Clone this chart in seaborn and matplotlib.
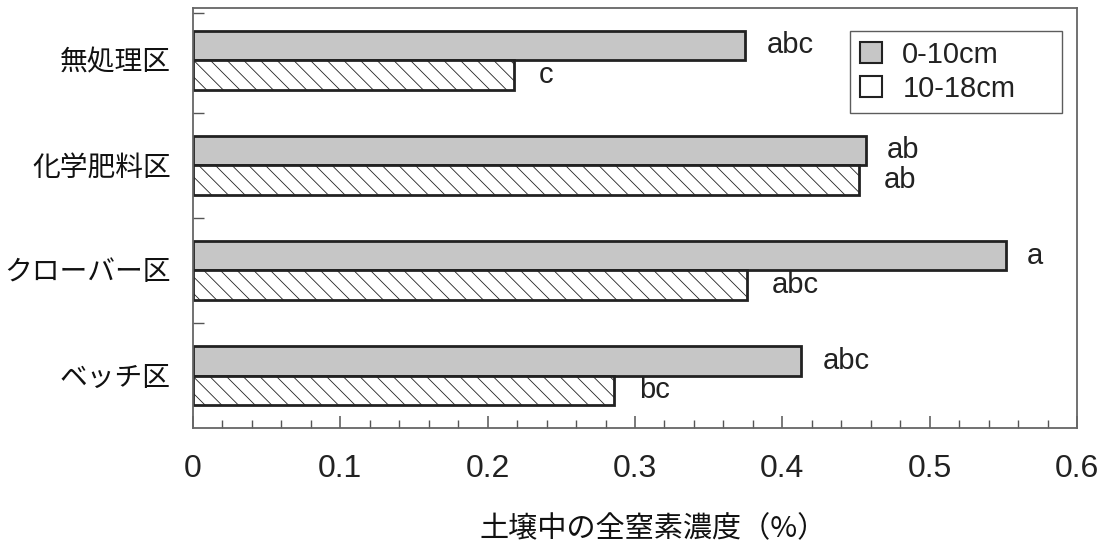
import matplotlib
matplotlib.use("Agg")
import matplotlib.pyplot as plt
from matplotlib.patches import Patch
from matplotlib.ticker import MultipleLocator
import seaborn as sns
import pandas as pd

# ---- data ----
categories = ['無処理区', '化学肥料区', 'クローバー区', 'ベッチ区']
series_names = ['0-10cm', '10-18cm']
depth_0_10 = [0.375, 0.457, 0.552, 0.413]
depth_10_18 = [0.218, 0.452, 0.376, 0.286]
letters_0_10 = ['abc', 'ab', 'a', 'abc']
letters_10_18 = ['c', 'ab', 'abc', 'bc']
x_ticks = [0, 0.1, 0.2, 0.3, 0.4, 0.5, 0.6]
x_tick_labels = ['0', '0.1', '0.2', '0.3', '0.4', '0.5', '0.6']
x_label = '土壌中の全窒素濃度（%）'

df = pd.DataFrame({
    'cat': categories * 2,
    'depth': [series_names[0]] * 4 + [series_names[1]] * 4,
    'val': depth_0_10 + depth_10_18,
})

sns.set_style('white')
plt.rcParams['font.family'] = ['Liberation Sans', 'Noto Sans CJK JP', 'DejaVu Sans']
plt.rcParams['hatch.color'] = '#7a7a7a'
plt.rcParams['hatch.linewidth'] = 0.6

fig = plt.figure(figsize=(11.03, 5.46), dpi=100)
ax = fig.add_axes([0.175, 0.216, 0.8014, 0.770])

sns.barplot(data=df, y='cat', x='val', hue='depth', order=categories,
            hue_order=series_names, orient='h', width=0.565,
            palette=['#c6c6c6', '#ffffff'], edgecolor='#222222',
            linewidth=2.0, ax=ax, legend=False, saturation=1)

for bar in ax.containers[1]:
    bar.set_hatch('\\\\')

ax.bar_label(ax.containers[0], labels=letters_0_10, padding=15,
             fontsize=21, color='#222222')
ax.bar_label(ax.containers[1], labels=letters_10_18, padding=18,
             fontsize=21, color='#222222')

ax.set_xlim(0, 0.6)
ax.set_ylim(3.5, -0.5)
ax.set_xticks(x_ticks)
ax.set_xticklabels(x_tick_labels, fontsize=23, color='#222222')
ax.xaxis.set_minor_locator(MultipleLocator(0.02))
ax.tick_params(axis='x', which='major', direction='in', length=9, width=1.1,
               color='#555555', pad=19, bottom=True)
ax.tick_params(axis='x', which='minor', direction='in', length=6, width=1.0,
               color='#555555', bottom=True)

ax.set_yticks(range(len(categories)))
ax.set_yticklabels(categories, fontsize=20, color='#111111')
ax.set_yticks([-0.45, 0.5, 1.5, 2.5], minor=True)
ax.tick_params(axis='y', which='major', length=0, pad=16)
ax.tick_params(axis='y', which='minor', direction='in', length=8, width=1.0,
               color='#555555', left=True)

ax.set_xlabel(x_label, fontsize=21, color='#111111',
              family=['Noto Sans CJK JP', 'DejaVu Sans'])
ax.xaxis.set_label_coords(0.52, -0.205)
ax.set_ylabel('')

for s in ax.spines.values():
    s.set_visible(True)
    s.set_color('#666666')
    s.set_linewidth(1.3)

handles = [Patch(facecolor='#c6c6c6', edgecolor='#222222', linewidth=1.5),
           Patch(facecolor='#ffffff', edgecolor='#222222', linewidth=1.5)]
leg = ax.legend(handles, series_names, loc='upper left',
                bbox_to_anchor=(0.743, 0.752, 0.240, 0.193), mode='expand',
                fontsize=21, frameon=True,
                fancybox=False, edgecolor='#333333', handlelength=0.75,
                handleheight=0.75, handletextpad=0.7, labelspacing=0.2,
                borderpad=0.35, borderaxespad=0)
leg.get_frame().set_linewidth(1.0)
for t in leg.get_texts():
    t.set_color('#222222')

fig.savefig('out.png', dpi=100)
